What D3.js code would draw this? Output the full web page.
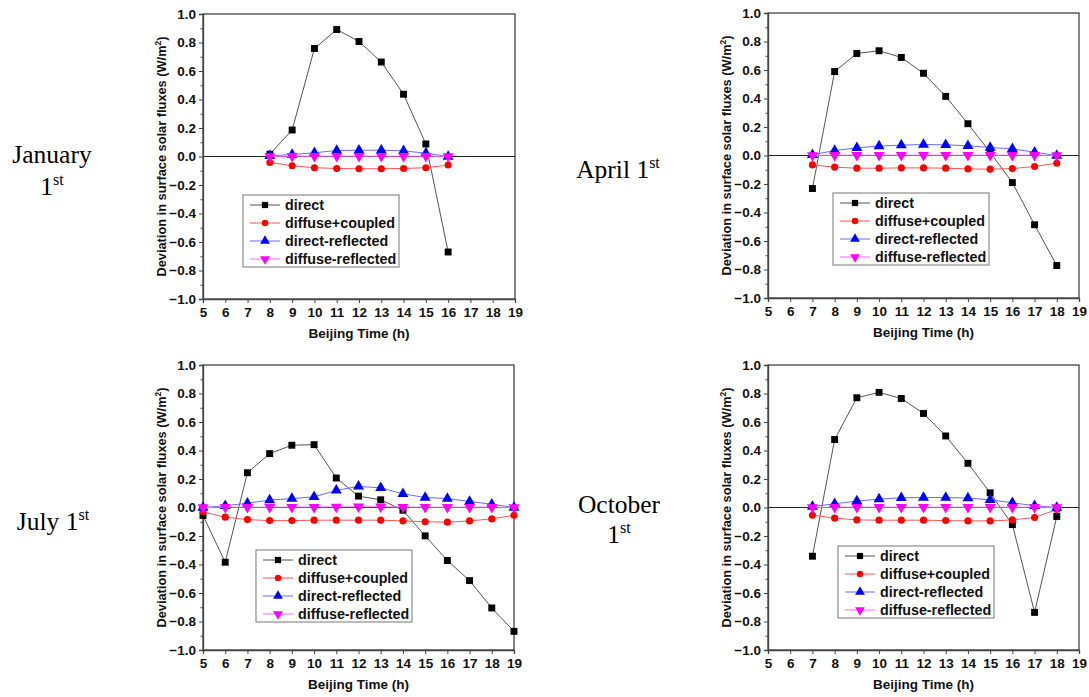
<!DOCTYPE html>
<html><head><meta charset="utf-8">
<script src="https://cdn.jsdelivr.net/npm/d3@7"></script>
<style>body{margin:0;background:#fff} svg{display:block}</style>
</head><body><svg id="c" width="1089" height="697"></svg>
<script>
// ---------- data ----------
const seriesNames = ["direct", "diffuse+coupled", "direct-reflected", "diffuse-reflected"];
const xTickLabels = [5, 6, 7, 8, 9, 10, 11, 12, 13, 14, 15, 16, 17, 18, 19];
const yTickLabels = [-1.0, -0.8, -0.6, -0.4, -0.2, 0.0, 0.2, 0.4, 0.6, 0.8, 1.0];
const yMinorTicks = [-0.9, -0.7, -0.5, -0.3, -0.1, 0.1, 0.3, 0.5, 0.7, 0.9];

const janHours = [8, 9, 10, 11, 12, 13, 14, 15, 16];
const janDirect = [0.016, 0.186, 0.758, 0.891, 0.807, 0.663, 0.437, 0.088, -0.67];
const janDiffuseCoupled = [-0.042, -0.065, -0.079, -0.084, -0.086, -0.086, -0.084, -0.079, -0.06];
const janDirectReflected = [0.005, 0.014, 0.026, 0.042, 0.044, 0.044, 0.04, 0.023, 0.0];
const janDiffuseReflected = [0.0, 0.002, 0.002, 0.002, 0.002, 0.002, 0.002, 0.002, 0.0];

const aprHours = [7, 8, 9, 10, 11, 12, 13, 14, 15, 16, 17, 18];
const aprDirect = [-0.232, 0.589, 0.716, 0.735, 0.688, 0.577, 0.415, 0.223, 0.022, -0.19, -0.486, -0.772];
const aprDiffuseCoupled = [-0.066, -0.082, -0.089, -0.089, -0.087, -0.087, -0.089, -0.094, -0.096, -0.092, -0.077, -0.054];
const aprDirectReflected = [0.005, 0.035, 0.054, 0.066, 0.073, 0.077, 0.075, 0.068, 0.056, 0.047, 0.023, 0.0];
const aprDiffuseReflected = [0.0, 0.002, 0.002, 0.002, 0.002, 0.002, 0.002, 0.002, 0.002, 0.002, 0.002, 0.0];

const julHours = [5, 6, 7, 8, 9, 10, 11, 12, 13, 14, 15, 16, 17, 18, 19];
const julDirect = [-0.056, -0.384, 0.244, 0.378, 0.437, 0.441, 0.207, 0.08, 0.054, -0.019, -0.199, -0.372, -0.513, -0.705, -0.869];
const julDiffuseCoupled = [-0.03, -0.068, -0.085, -0.092, -0.092, -0.089, -0.089, -0.089, -0.089, -0.094, -0.1, -0.103, -0.094, -0.08, -0.054];
const julDirectReflected = [0.0, 0.012, 0.03, 0.052, 0.063, 0.075, 0.12, 0.148, 0.138, 0.096, 0.07, 0.063, 0.042, 0.023, 0.0];
const julDiffuseReflected = [0.0, 0.002, 0.002, 0.002, 0.003, 0.003, 0.004, 0.005, 0.005, 0.003, 0.002, 0.002, 0.002, 0.002, 0.0];

const octHours = [7, 8, 9, 10, 11, 12, 13, 14, 15, 16, 17, 18];
const octDirect = [-0.342, 0.477, 0.77, 0.808, 0.765, 0.66, 0.502, 0.31, 0.103, -0.12, -0.736, -0.063];
const octDiffuseCoupled = [-0.054, -0.075, -0.087, -0.089, -0.089, -0.089, -0.092, -0.094, -0.094, -0.087, -0.07, -0.014];
const octDirectReflected = [0.007, 0.026, 0.045, 0.059, 0.068, 0.07, 0.07, 0.066, 0.054, 0.033, 0.012, 0.0];
const octDiffuseReflected = [0.0, 0.002, 0.002, 0.002, 0.002, 0.002, 0.002, 0.002, 0.002, 0.002, 0.002, 0.0];

// ---------- layout / style ----------
const panels = [
  {hours: janHours, series: [janDirect, janDiffuseCoupled, janDirectReflected, janDiffuseReflected],
   x0: 203, x1: 515, y0: 14, y1: 299, lx: 243, ly: 195},
  {hours: aprHours, series: [aprDirect, aprDiffuseCoupled, aprDirectReflected, aprDiffuseReflected],
   x0: 768, x1: 1079, y0: 13, y1: 298, lx: 833, ly: 193},
  {hours: julHours, series: [julDirect, julDiffuseCoupled, julDirectReflected, julDiffuseReflected],
   x0: 203, x1: 514, y0: 365, y1: 650, lx: 256, ly: 550},
  {hours: octHours, series: [octDirect, octDiffuseCoupled, octDirectReflected, octDiffuseReflected],
   x0: 768, x1: 1079, y0: 365, y1: 650, lx: 838, ly: 546}
];
const lineColors = ["#555555", "#ff5555", "#6b6bff", "#ff66ff"];
const markColors = ["#000000", "#ff0000", "#0000ff", "#ff00ff"];
const symbols = [d3.symbolSquare, d3.symbolCircle, d3.symbolTriangle, d3.symbolTriangle];
const symSizes = [48, 40, 52, 52];
const symRot = [0, 0, 0, 180];
const FONT = "'Liberation Sans', Arial, sans-serif";
const SERIF = "'Liberation Serif', 'Times New Roman', serif";

const svg = d3.select("#c");

panels.forEach(p => {
  const x = d3.scaleLinear().domain([5, 19]).range([p.x0, p.x1]);
  const y = d3.scaleLinear().domain([-1, 1]).range([p.y1, p.y0]);
  const g = svg.append("g");

  // frame
  g.append("rect").attr("x", p.x0).attr("y", p.y0)
    .attr("width", p.x1 - p.x0).attr("height", p.y1 - p.y0)
    .attr("fill", "none").attr("stroke", "#444").attr("stroke-width", 1.3);

  // zero line
  g.append("line").attr("x1", p.x0).attr("x2", p.x1)
    .attr("y1", y(0)).attr("y2", y(0)).attr("stroke", "#222").attr("stroke-width", 1);

  // axes
  const xa = g.append("g").attr("transform", `translate(0,${p.y1})`)
    .call(d3.axisBottom(x).tickValues(xTickLabels).tickFormat(d3.format("d")).tickSize(4).tickPadding(4));
  const ya = g.append("g").attr("transform", `translate(${p.x0},0)`)
    .call(d3.axisLeft(y).tickValues(yTickLabels).tickFormat(d3.format(".1f")).tickSize(4).tickPadding(3));
  g.append("g").attr("transform", `translate(${p.x0},0)`)
    .call(d3.axisLeft(y).tickValues(yMinorTicks).tickFormat("").tickSize(2.5))
    .call(s => s.select(".domain").remove());
  [xa, ya].forEach(a => {
    a.select(".domain").attr("stroke", "#444").attr("stroke-width", 1.3);
    a.selectAll("text").attr("font-family", FONT).attr("font-weight", "bold")
      .attr("font-size", 13.5).attr("fill", "#111");
  });
  g.selectAll(".tick line").attr("stroke", "#444");

  // axis titles
  g.append("text").attr("x", (p.x0 + p.x1) / 2).attr("y", p.y1 + 39)
    .attr("text-anchor", "middle").attr("font-family", FONT).attr("font-weight", "bold")
    .attr("font-size", 13.5).attr("fill", "#111").text("Beijing Time (h)");
  const yt = g.append("text")
    .attr("transform", `translate(${p.x0 - 37},${(p.y0 + p.y1) / 2}) rotate(-90)`)
    .attr("text-anchor", "middle").attr("font-family", FONT).attr("font-weight", "bold")
    .attr("font-size", 12.8).attr("fill", "#111");
  yt.append("tspan").text("Deviation in surface solar fluxes (W/m");
  yt.append("tspan").attr("dy", -5).attr("font-size", 8.5).text("2");
  yt.append("tspan").attr("dy", 5).text(")");

  // series
  p.series.forEach((vals, i) => {
    const pts = p.hours.map((h, k) => [h, vals[k]]);
    g.append("path").datum(pts)
      .attr("d", d3.line().x(d => x(d[0])).y(d => y(d[1])))
      .attr("fill", "none").attr("stroke", lineColors[i]).attr("stroke-width", 1);
    g.selectAll(null).data(pts).enter().append("path")
      .attr("d", d3.symbol().type(symbols[i]).size(symSizes[i]))
      .attr("transform", d => `translate(${x(d[0])},${y(d[1])}) rotate(${symRot[i]})`)
      .attr("fill", markColors[i]);
  });

  // legend
  const lg = g.append("g").attr("transform", `translate(${p.lx},${p.ly})`);
  lg.append("rect").attr("width", 156).attr("height", 72)
    .attr("fill", "#fff").attr("stroke", "#777").attr("stroke-width", 1);
  seriesNames.forEach((n, i) => {
    const yy = 10 + i * 18;
    lg.append("line").attr("x1", 7).attr("x2", 37).attr("y1", yy).attr("y2", yy)
      .attr("stroke", lineColors[i]).attr("stroke-width", 1);
    lg.append("path").attr("d", d3.symbol().type(symbols[i]).size(symSizes[i] * 0.8))
      .attr("transform", `translate(22,${yy}) rotate(${symRot[i]})`).attr("fill", markColors[i]);
    lg.append("text").attr("x", 42).attr("y", yy + 5).attr("font-family", FONT)
      .attr("font-weight", "bold").attr("font-size", 14.3).attr("fill", "#111").text(n);
  });
});

// side labels
function sideLabel(lines) {
  lines.forEach(l => {
    const t = svg.append("text").attr("x", l.x).attr("y", l.y).attr("text-anchor", "middle")
      .attr("font-family", SERIF).attr("font-size", 25.5).attr("fill", "#000");
    t.append("tspan").text(l.main);
    if (l.sup) t.append("tspan").attr("dy", -10).attr("font-size", 16).text(l.sup);
  });
}
sideLabel([{x: 52, y: 163, main: "January"}, {x: 52, y: 195, main: "1", sup: "st"}]);
sideLabel([{x: 618, y: 178, main: "April 1", sup: "st"}]);
sideLabel([{x: 53, y: 530, main: "July 1", sup: "st"}]);
sideLabel([{x: 619, y: 513, main: "October"}, {x: 619, y: 543, main: "1", sup: "st"}]);
</script></body></html>
